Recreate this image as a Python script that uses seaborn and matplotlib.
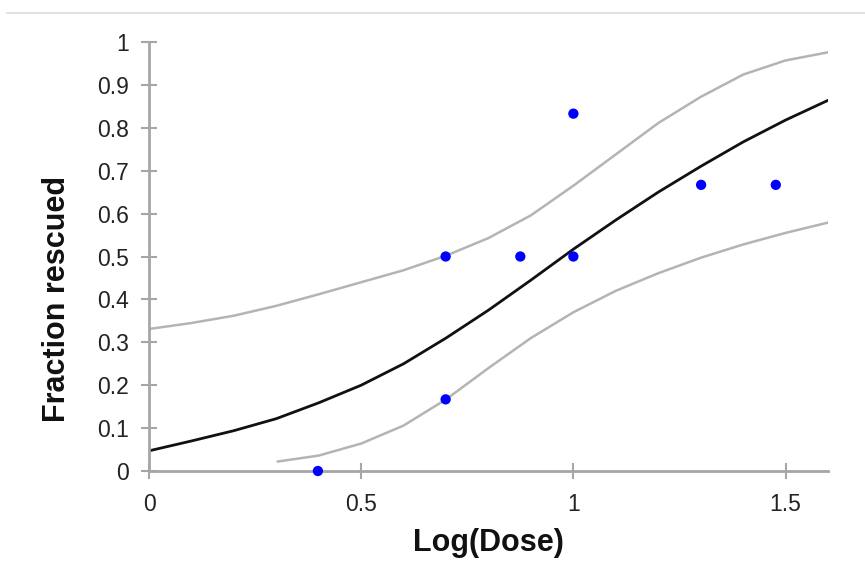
import matplotlib
matplotlib.use("Agg")
import matplotlib.pyplot as plt
import pandas as pd
import seaborn as sns
from matplotlib.lines import Line2D

# --------------------------------------------------------------------------
# Data
# --------------------------------------------------------------------------
dose_log = [0.398, 0.699, 0.699, 0.875, 1.0, 1.0, 1.301, 1.477]
frac_rescued = [0.0, 0.5, 0.167, 0.5, 0.5, 0.833, 0.667, 0.667]

fit_x = [0.0, 0.1, 0.2, 0.3, 0.4, 0.5, 0.6, 0.7, 0.8, 0.9,
         1.0, 1.1, 1.2, 1.3, 1.4, 1.5, 1.6]
fit_y = [0.047, 0.07, 0.094, 0.122, 0.159, 0.2, 0.25, 0.31, 0.375, 0.445,
         0.517, 0.585, 0.65, 0.71, 0.767, 0.818, 0.864]

upper_x = [0.0, 0.1, 0.2, 0.3, 0.4, 0.5, 0.6, 0.7, 0.8, 0.9,
           1.0, 1.1, 1.2, 1.3, 1.4, 1.5, 1.6]
upper_y = [0.331, 0.345, 0.362, 0.385, 0.412, 0.44, 0.468, 0.502, 0.543, 0.596,
           0.665, 0.738, 0.811, 0.872, 0.924, 0.957, 0.976]

lower_x = [0.303, 0.4, 0.5, 0.6, 0.7, 0.8, 0.9, 1.0, 1.1, 1.2, 1.3, 1.4, 1.5, 1.6]
lower_y = [0.022, 0.036, 0.064, 0.106, 0.167, 0.24, 0.31, 0.37, 0.42, 0.461,
           0.497, 0.528, 0.555, 0.579]

x_ticks = [0, 0.5, 1, 1.5]
x_tick_labels = ["0", "0.5", "1", "1.5"]
y_ticks = [0, 0.1, 0.2, 0.3, 0.4, 0.5, 0.6, 0.7, 0.8, 0.9, 1]
y_tick_labels = ["0", "0.1", "0.2", "0.3", "0.4", "0.5", "0.6", "0.7", "0.8", "0.9", "1"]

# --------------------------------------------------------------------------
# Style
# --------------------------------------------------------------------------
sns.set_theme(style="white")
plt.rcParams["font.family"] = ["Liberation Sans", "DejaVu Sans"]

AXIS_GREY = "#a6a6a6"
BAND_GREY = "#b4b4b4"

fig = plt.figure(figsize=(8.65, 5.85), dpi=100)
ax = fig.add_axes([149 / 865, 114 / 585, 679 / 865, 429 / 585])

obs = pd.DataFrame({"x": dose_log, "y": frac_rescued})
fit = pd.DataFrame({"x": fit_x, "y": fit_y})
upper = pd.DataFrame({"x": upper_x, "y": upper_y})
lower = pd.DataFrame({"x": lower_x, "y": lower_y})

sns.lineplot(data=upper, x="x", y="y", ax=ax, color=BAND_GREY, lw=1.8, sort=True)
sns.lineplot(data=lower, x="x", y="y", ax=ax, color=BAND_GREY, lw=1.8, sort=True)
sns.lineplot(data=fit, x="x", y="y", ax=ax, color="#111111", lw=2.0, sort=True)
sns.scatterplot(data=obs, x="x", y="y", ax=ax, color="#0000ff", s=55,
                edgecolor="none", zorder=5, clip_on=False)

ax.set_xlim(0, 1.6)
ax.set_ylim(0, 1)
ax.set_xticks(x_ticks)
ax.set_xticklabels(x_tick_labels)
ax.set_yticks(y_ticks)
ax.set_yticklabels(y_tick_labels)

for side in ("top", "right"):
    ax.spines[side].set_visible(False)
for side in ("left", "bottom"):
    ax.spines[side].set_color(AXIS_GREY)
    ax.spines[side].set_linewidth(2.0)

ax.tick_params(axis="both", which="major", bottom=True, left=True,
               direction="inout", length=11.5, width=1.5,
               color=AXIS_GREY, labelsize=16.5, labelcolor="#222222")
ax.tick_params(axis="x", pad=10)
ax.tick_params(axis="y", pad=9)

ax.set_xlabel("Log(Dose)", fontsize=22, fontweight="bold", color="#111111",
              labelpad=9)
ax.set_ylabel("Fraction rescued", fontsize=22, fontweight="bold",
              color="#111111")
ax.yaxis.set_label_coords(-0.114, 0.40)

# thin light rule along the top of the picture
fig.add_artist(Line2D([7 / 865, 1.0], [1 - 12.7 / 585, 1 - 12.7 / 585],
                      transform=fig.transFigure, color="#e2e2e2", lw=1.5))

fig.savefig("out.png", dpi=100)
